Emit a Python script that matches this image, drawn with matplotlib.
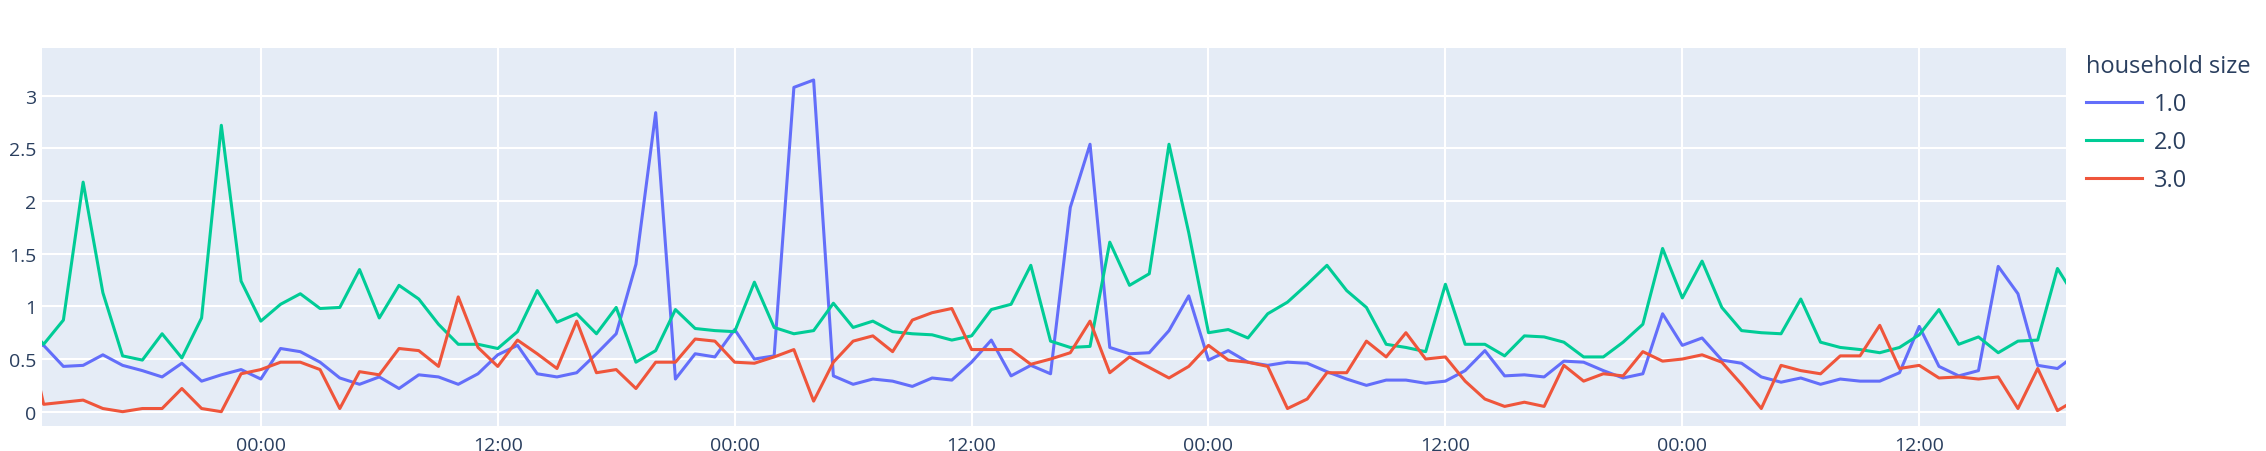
import numpy as np
import pandas as pd
import matplotlib
matplotlib.use("Agg")
import matplotlib.pyplot as plt
import matplotlib.dates as mdates

plt.rcParams['font.family'] = ['Open Sans', 'DejaVu Sans']

# hourly readings, 12:00 on day 0 up to 20:00 on day 4 (ends are cut by the x range)
zaman = pd.date_range(start="2023-01-01 12:00", periods=105, freq="h")

size_1 = [0.63, 0.63, 0.43, 0.44, 0.54, 0.44, 0.39, 0.33, 0.46, 0.29, 0.35, 0.40,
          0.31, 0.60, 0.57, 0.47, 0.32, 0.26, 0.33, 0.22, 0.35, 0.33, 0.26, 0.36,
          0.54, 0.63, 0.36, 0.33, 0.37, 0.55, 0.74, 1.40, 2.84, 0.31, 0.55, 0.52,
          0.78, 0.50, 0.53, 3.08, 3.15, 0.34, 0.26, 0.31, 0.29, 0.24, 0.32, 0.30,
          0.47, 0.68, 0.34, 0.44, 0.36, 1.94, 2.54, 0.61, 0.55, 0.56, 0.77, 1.10,
          0.49, 0.58, 0.47, 0.44, 0.47, 0.46, 0.38, 0.31, 0.25, 0.30, 0.30, 0.27,
          0.29, 0.39, 0.58, 0.34, 0.35, 0.33, 0.48, 0.47, 0.39, 0.32, 0.36, 0.93,
          0.63, 0.70, 0.49, 0.46, 0.33, 0.28, 0.32, 0.26, 0.31, 0.29, 0.29, 0.37,
          0.81, 0.43, 0.34, 0.39, 1.38, 1.12, 0.44, 0.41, 0.55]

size_2 = [0.85, 0.64, 0.87, 2.18, 1.13, 0.53, 0.49, 0.74, 0.51, 0.89, 2.72, 1.24,
          0.86, 1.02, 1.12, 0.98, 0.99, 1.35, 0.89, 1.20, 1.07, 0.83, 0.64, 0.64,
          0.60, 0.76, 1.15, 0.85, 0.93, 0.74, 0.99, 0.47, 0.58, 0.97, 0.79, 0.77,
          0.76, 1.23, 0.80, 0.74, 0.77, 1.03, 0.80, 0.86, 0.76, 0.74, 0.73, 0.68,
          0.72, 0.97, 1.02, 1.39, 0.67, 0.61, 0.62, 1.61, 1.20, 1.31, 2.54, 1.70,
          0.75, 0.78, 0.70, 0.93, 1.04, 1.21, 1.39, 1.15, 0.99, 0.64, 0.61, 0.57,
          1.21, 0.64, 0.64, 0.53, 0.72, 0.71, 0.66, 0.52, 0.52, 0.66, 0.83, 1.55,
          1.08, 1.43, 0.99, 0.77, 0.75, 0.74, 1.07, 0.66, 0.61, 0.59, 0.56, 0.61,
          0.73, 0.97, 0.64, 0.71, 0.56, 0.67, 0.68, 1.36, 1.06]

size_3 = [0.90, 0.07, 0.09, 0.11, 0.03, 0.00, 0.03, 0.03, 0.22, 0.03, 0.00, 0.36,
          0.40, 0.47, 0.47, 0.40, 0.03, 0.38, 0.35, 0.60, 0.58, 0.43, 1.09, 0.61,
          0.43, 0.68, 0.55, 0.41, 0.86, 0.37, 0.40, 0.22, 0.47, 0.47, 0.69, 0.67,
          0.47, 0.46, 0.52, 0.59, 0.10, 0.47, 0.67, 0.72, 0.57, 0.87, 0.94, 0.98,
          0.59, 0.59, 0.59, 0.45, 0.50, 0.56, 0.86, 0.37, 0.52, 0.42, 0.32, 0.43,
          0.63, 0.49, 0.47, 0.43, 0.03, 0.12, 0.37, 0.37, 0.67, 0.52, 0.75, 0.50,
          0.52, 0.29, 0.12, 0.05, 0.09, 0.05, 0.44, 0.29, 0.36, 0.34, 0.57, 0.48,
          0.50, 0.54, 0.47, 0.26, 0.03, 0.44, 0.39, 0.36, 0.53, 0.53, 0.82, 0.41,
          0.44, 0.32, 0.33, 0.31, 0.33, 0.03, 0.41, 0.01, 0.12]

etiketler = ["1.0", "2.0", "3.0"]
renkler = ["#636EFA", "#00CC96", "#EF553B"]

fig = plt.figure(figsize=(22.66, 4.52), dpi=100)
ax = fig.add_axes([42 / 2266, 1 - 427 / 452, (2066 - 42) / 2266, (427 - 49) / 452])
ax.set_facecolor("#E5ECF6")

for seri, etiket, renk in zip([size_1, size_2, size_3], etiketler, renkler):
    ax.plot(zaman, seri, color=renk, linewidth=2.2, label=etiket, solid_joinstyle="round")

ax.set_xlim(pd.Timestamp("2023-01-01 12:55"), pd.Timestamp("2023-01-05 19:26"))
ax.set_ylim(-0.136, 3.454)
ax.set_yticks([0, 0.5, 1, 1.5, 2, 2.5, 3])
ax.set_yticklabels(["0", "0.5", "1", "1.5", "2", "2.5", "3"])
ax.xaxis.set_major_locator(mdates.HourLocator(byhour=[0, 12]))
ax.xaxis.set_major_formatter(mdates.DateFormatter("%H:%M"))

ax.grid(True, color="white", linewidth=1.5)
ax.set_axisbelow(True)
for s in ax.spines.values():
    s.set_visible(False)
ax.tick_params(length=0, labelsize=14, labelcolor="#2a3f5f")
ax.tick_params(axis="y", pad=4)
ax.tick_params(axis="x", pad=7)

leg = ax.legend(title="household size", loc="upper left", bbox_to_anchor=(1.005, 1.01),
                frameon=False, fontsize=17, title_fontsize=17, handlelength=2.4,
                labelspacing=0.6, handletextpad=0.5, borderaxespad=0.0,
                alignment="left")
for t in leg.get_texts():
    t.set_color("#2a3f5f")
leg.get_title().set_color("#2a3f5f")

fig.savefig("out.png", dpi=100)
